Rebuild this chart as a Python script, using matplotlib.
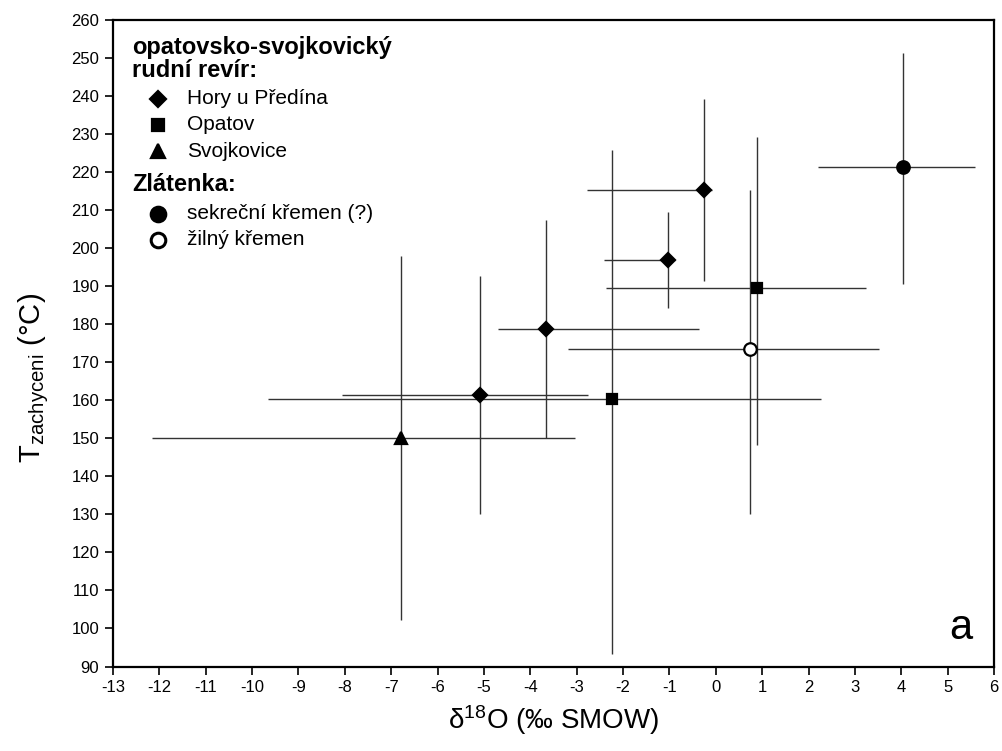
import matplotlib
matplotlib.use('Agg')
import matplotlib.pyplot as plt
import numpy as np

plt.rcParams['font.family'] = ['Liberation Sans', 'DejaVu Sans']
plt.rcParams['axes.unicode_minus'] = False
plt.rcParams['mathtext.fontset'] = 'custom'
plt.rcParams['mathtext.rm'] = 'Liberation Sans'
plt.rcParams['mathtext.it'] = 'Liberation Sans:italic'
plt.rcParams['mathtext.bf'] = 'Liberation Sans:bold'

# Hory u Predina (diamonds)
hory_x = [-5.08, -3.66, -1.02, -0.26]
hory_y = [161.4, 178.7, 196.9, 215.3]
hory_xlo = [-8.06, -4.70, -2.42, -2.78]
hory_xhi = [-2.75, -0.37, -0.87, -0.08]
hory_ylo = [130.0, 150.2, 184.2, 191.4]
hory_yhi = [192.6, 207.4, 209.6, 239.1]

# Opatov (squares)
opatov_x = [-2.23, 0.88]
opatov_y = [160.3, 189.4]
opatov_xlo = [-9.66, -2.37]
opatov_xhi = [2.27, 3.23]
opatov_ylo = [93.3, 148.2]
opatov_yhi = [225.8, 229.3]

# Svojkovice (triangle)
svoj_x = [-6.78]
svoj_y = [150.1]
svoj_xlo = [-12.16]
svoj_xhi = [-3.04]
svoj_ylo = [102.2]
svoj_yhi = [198.0]

# Zlatenka - sekrecni kremen (filled circle)
sekr_x = [4.04]
sekr_y = [221.3]
sekr_xlo = [2.20]
sekr_xhi = [5.58]
sekr_ylo = [190.6]
sekr_yhi = [251.4]

# Zlatenka - zilny kremen (open circle)
zil_x = [0.73]
zil_y = [173.5]
zil_xlo = [-3.18]
zil_xhi = [3.53]
zil_ylo = [130.0]
zil_yhi = [215.3]

groups = [
    (hory_x, hory_y, hory_xlo, hory_xhi, hory_ylo, hory_yhi, 'D', 7.5, 'black'),
    (opatov_x, opatov_y, opatov_xlo, opatov_xhi, opatov_ylo, opatov_yhi, 's', 7, 'black'),
    (svoj_x, svoj_y, svoj_xlo, svoj_xhi, svoj_ylo, svoj_yhi, '^', 9, 'black'),
    (sekr_x, sekr_y, sekr_xlo, sekr_xhi, sekr_ylo, sekr_yhi, 'o', 9, 'black'),
    (zil_x, zil_y, zil_xlo, zil_xhi, zil_ylo, zil_yhi, 'o', 9, 'white'),
]

fig = plt.figure(figsize=(10.02, 7.51), dpi=100)
ax = fig.add_axes([0.1128, 0.1125, 0.8792, 0.8609])

for x, y, xlo, xhi, ylo, yhi, mk, ms, fc in groups:
    x = np.array(x)
    y = np.array(y)
    xerr = [x - np.array(xlo), np.array(xhi) - x]
    yerr = [y - np.array(ylo), np.array(yhi) - y]
    ax.errorbar(x, y, xerr=xerr, yerr=yerr, fmt='none', ecolor='#333333',
                elinewidth=1.0, capsize=0, zorder=2)
    ax.plot(x, y, linestyle='none', marker=mk, markersize=ms,
            markerfacecolor=fc, markeredgecolor='black', markeredgewidth=1.6,
            zorder=3)

ax.set_xlim(-13, 6)
ax.set_ylim(90, 260)
ax.set_xticks(np.arange(-13, 7, 1))
ax.set_yticks(np.arange(90, 261, 10))
ax.tick_params(direction='out', length=6, width=1.2, labelsize=12, pad=4)
for s in ax.spines.values():
    s.set_linewidth(1.6)

ax.set_xlabel(r'δ$^{18}$O (‰ SMOW)', fontsize=20)
ax.xaxis.set_label_coords(0.5, -0.056)
ax.set_ylabel(r'T$_{\mathrm{zachyceni}}$ (°C)', fontsize=21)
ax.yaxis.set_label_coords(-0.07, 0.447)

# legend built by hand
mx = 0.0515
ax.text(0.022, 0.958, 'opatovsko-svojkovický', transform=ax.transAxes,
        fontsize=17, fontweight='bold', va='center')
ax.text(0.022, 0.922, 'rudní revír:', transform=ax.transAxes,
        fontsize=17, fontweight='bold', va='center')
legend_rows = [
    (0.878, 'D', 8.5, 'black', 'Hory u Předína'),
    (0.838, 's', 8, 'black', 'Opatov'),
    (0.797, '^', 9.5, 'black', 'Svojkovice'),
]
for yy, mk, ms, fc, lab in legend_rows:
    ax.plot([mx], [yy], transform=ax.transAxes, marker=mk, markersize=ms,
            markerfacecolor=fc, markeredgecolor='black', markeredgewidth=1.6,
            linestyle='none', clip_on=False)
    ax.text(0.084, yy, lab, transform=ax.transAxes, fontsize=15, va='center')
ax.text(0.022, 0.745, 'Zlátenka:', transform=ax.transAxes,
        fontsize=17, fontweight='bold', va='center')
legend_rows2 = [
    (0.700, 'o', 10.5, 'black', 'sekreční křemen (?)'),
    (0.660, 'o', 10.5, 'white', 'žilný křemen'),
]
for yy, mk, ms, fc, lab in legend_rows2:
    ax.plot([mx], [yy], transform=ax.transAxes, marker=mk, markersize=ms,
            markerfacecolor=fc, markeredgecolor='black', markeredgewidth=2.2,
            linestyle='none', clip_on=False)
    ax.text(0.084, yy, lab, transform=ax.transAxes, fontsize=15, va='center')

ax.text(0.975, 0.06, 'a', transform=ax.transAxes, fontsize=30,
        ha='right', va='center')

fig.savefig('out.png', dpi=100)
